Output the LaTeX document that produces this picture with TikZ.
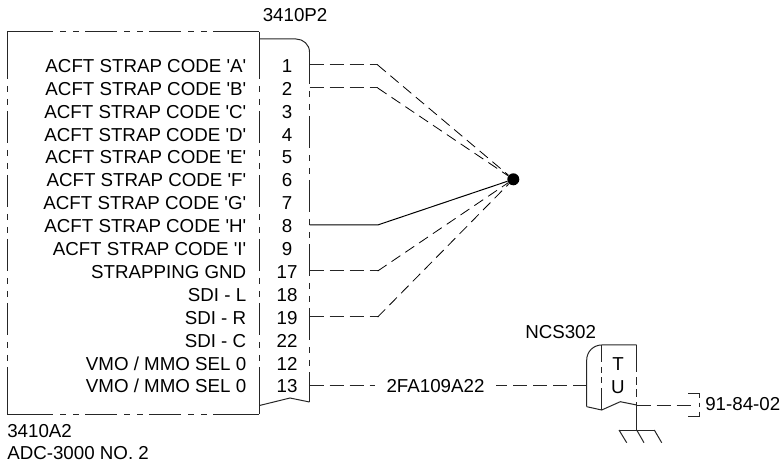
\documentclass[tikz,border=0pt]{standalone}
\usepackage{fontspec}
\newfontfamily\arl{Liberation Sans}
\tikzset{
  x=0.75pt,y=-0.75pt,
  lbl/.style={inner sep=0pt,font=\arl\fontsize{14.05}{16}\selectfont},
  rowlabel/.style={lbl,anchor=base east},
  pinlabel/.style={lbl,anchor=base},
  freelabel/.style={lbl,anchor=base west},
  ln/.style={line width=0.75pt,black!85},
  wire/.style={line width=0.75pt,black!85,dash pattern=on 10.5pt off 4.5pt},
  diag/.style={line width=0.6pt,black,dash pattern=on 8pt off 4.5pt},
  solidwire/.style={line width=0.75pt,black},
  hframe/.style={ln,dash pattern=on 34.5pt off 5.25pt on 4.5pt off 5.25pt on 4.5pt off 4.5pt on 24pt off 5.25pt on 4.5pt off 5.25pt on 4.5pt off 4.5pt on 24pt off 5.25pt on 4.5pt off 5.25pt on 4.5pt off 4.5pt on 34.5pt},
  vframe/.style={ln,dash pattern=on 35.25pt off 5.25pt on 4.5pt off 5.25pt on 4.5pt off 4.5pt on 24pt off 5.25pt on 4.5pt off 5.25pt on 4.5pt off 4.5pt on 24pt off 5.25pt on 4.5pt off 5.25pt on 4.5pt off 4.5pt on 24pt off 5.25pt on 4.5pt off 5.25pt on 4.5pt off 4.5pt on 24pt off 5.25pt on 4.5pt off 5.25pt on 4.5pt off 4.5pt on 35.25pt},
  rframe/.style={ln,dash pattern=on 24pt off 5.25pt on 4.5pt off 5.25pt on 4.5pt off 4.5pt on 24pt off 5.25pt on 4.5pt off 5.25pt on 4.5pt off 4.5pt on 24pt off 5.25pt on 4.5pt off 5.25pt on 4.5pt off 4.5pt on 24pt off 5.25pt on 4.5pt off 5.25pt on 4.5pt off 4.5pt on 24pt off 5.25pt on 4.5pt off 5.25pt on 4.5pt off 4.5pt on 24pt},
}
\begin{document}
\begin{tikzpicture}
\useasboundingbox (0,0) rectangle (782,463);
% frame coordinates
\coordinate (tl) at (7,32);
\coordinate (tm) at (259.5,32);
\coordinate (bl) at (7,414);
\coordinate (bm) at (259.5,414);
% frame
\draw[hframe] (tl) -- (tm);
\draw[hframe] (bl) -- (bm);
\draw[vframe] (tl) -- (bl);
\draw[vframe] (tm) -- (bm);
% connector shell
\draw[ln] (259.5,39) -- (296,39) to[out=0,in=90] (309.5,52);
\draw[rframe] (309.5,52) -- (309.5,402);
\draw[ln] (259.5,405.5) -- (290,398) -- (309.5,402);
% pins
\foreach \n/\y in {1/65,2/88,8/225,17/271,19/317,13/385}{
  \coordinate (p\n) at (309.5,\y);
  \coordinate (k\n) at (377.7,\y);
}
\node[circle,fill=black,inner sep=0pt,minimum size=9pt] (dot) at (513.3,179.3) {};
\draw[wire] (p1) -- (k1);
\draw[wire] (p2) -- (k2);
\draw[wire] (p17) -- (k17);
\draw[wire] (p19) -- (k19);
\draw[solidwire] (p8) -- (k8) -- (dot);
\draw[diag] (k1) -- (dot);
\draw[diag] (k2) -- (dot);
\draw[diag] (k17) -- (dot);
\draw[diag] (k19) -- (dot);
% row labels
\foreach \t/\n/\y in {ACFT STRAP CODE 'A'/1/65,ACFT STRAP CODE 'B'/2/88,ACFT STRAP CODE 'C'/3/110.7,ACFT STRAP CODE 'D'/4/133.6,ACFT STRAP CODE 'E'/5/156.5,ACFT STRAP CODE 'F'/6/179.4,ACFT STRAP CODE 'G'/7/202.2,ACFT STRAP CODE 'H'/8/225,ACFT STRAP CODE 'I'/9/248,STRAPPING GND/17/271,SDI - L/18/294,SDI - R/19/317,SDI - C/22/340,{VMO / MMO SEL 0}/12/362.5,{VMO / MMO SEL 0}/13/385}{
  \node[rowlabel] (r\n) at (246.5,\y+7.5) {\t};
  \node[pinlabel] (n\n) at (287,\y+7.5) {\n};
}
\node[freelabel] (p2lbl) at (262.5,21.5) {3410P2};
\node[freelabel] (a2lbl) at (7,437) {3410A2};
\node[freelabel] (adc) at (7,459) {ADC-3000 NO. 2};
\node[freelabel] (ncs) at (525,338.3) {NCS302};
% wire 13
\node[lbl,anchor=center,inner sep=8.25pt] (w) at (435.5,385.7) {2FA109A22};
\coordinate (c13) at (586.7,385);
\draw[wire] (p13) -- (p13-|w.west);
\draw[wire] (c13) -- (c13-|w.east);
% TU connector
\draw[ln] (586.7,406.7) -- (586.7,360) to[out=90,in=180] (601.7,345) -- (636.7,345);
\draw[ln] (586.7,406.7) -- (601.7,410) -- (620.3,401.7) -- (636.7,405);
\draw[ln,dash pattern=on 12.75pt off 3.75pt on 4.5pt off 3pt on 4.5pt off 3.75pt on 17pt] (601.7,345) -- (601.7,410);
\draw[ln,dash pattern=on 20.25pt off 3.75pt on 6pt off 3pt on 6pt off 3.75pt on 3pt] (636.7,345) -- (636.7,405);
\node[lbl,anchor=base] (t) at (618,370) {T};
\node[lbl,anchor=base] (u) at (618,393.3) {U};
% ground
\coordinate (gnd) at (636.7,430);
\draw[ln] (636.7,405) -- (gnd);
\draw[ln] (619,430) -- (654.3,430);
\draw[ln] (619,430) -- (626.7,442.7);
\draw[ln] (gnd) -- (644,442.7);
\draw[ln] (654.3,430) -- (661.7,442.7);
% bracket
\draw[wire] (636.7,405) -- (696.7,405);
\draw[ln] (688.3,393.3) -- (699.3,393.3) -- (699.3,398);
\draw[ln] (699.3,402.5) -- (699.3,407);
\draw[ln] (699.3,411.7) -- (699.3,416.7) -- (688.3,416.7);
\node[freelabel] (ref) at (705,410.7) {91-84-02};
\end{tikzpicture}
\end{document}
